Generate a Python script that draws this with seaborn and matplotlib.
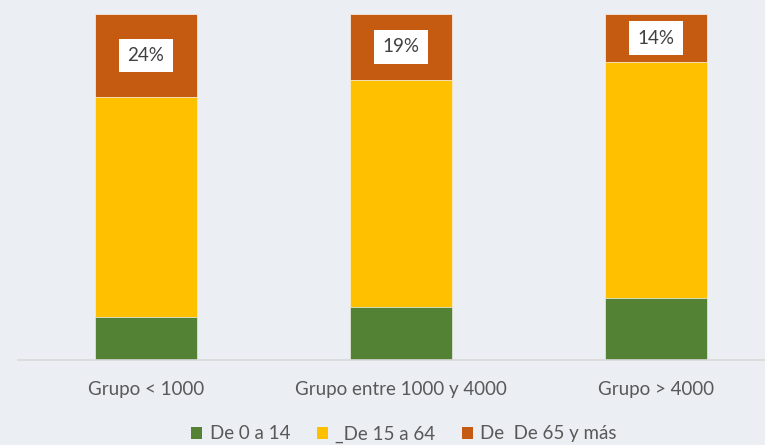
import numpy as np
import pandas as pd
import matplotlib
matplotlib.use("Agg")
import matplotlib.pyplot as plt
import seaborn as sns
from matplotlib.patches import Patch

# data (percent of each group)
groups = ["Grupo < 1000", "Grupo entre 1000 y 4000", "Grupo > 4000"]
young = [12.5, 15.3, 17.8]
old = [24, 19, 14]
old_labels = ["24%", "19%", "14%"]
series_names = ["De 0 a 14", "_De 15 a 64", "De  De 65 y más"]

colors = ["#548235", "#FFC000", "#C55A11"]
bg = "#EBEEF2"
text_col = "#595959"

middle = [100 - y - o for y, o in zip(young, old)]
df = pd.DataFrame({"group": groups, "young": young, "middle": middle, "old": old})
df["top"] = df["young"] + df["middle"] + df["old"]
df["mid_cum"] = df["young"] + df["middle"]

sns.set_style("white")
plt.rcParams["font.family"] = ["Lato", "DejaVu Sans"]

fig = plt.figure(figsize=(7.65, 4.45), dpi=100, facecolor=bg)
ax = fig.add_axes([18 / 765, 1 - 360 / 445, 747 / 765, 346 / 445])
ax.set_facecolor(bg)

# stacked bars drawn from the cumulative totals down
sns.barplot(data=df, x="group", y="top", color=colors[2], width=0.4,
            edgecolor="#F3E6DC", linewidth=0.6, ax=ax, saturation=1)
sns.barplot(data=df, x="group", y="mid_cum", color=colors[1], width=0.4,
            edgecolor="#F6EBD0", linewidth=0.6, ax=ax, saturation=1)
sns.barplot(data=df, x="group", y="young", color=colors[0], width=0.4,
            edgecolor="#DCE3D6", linewidth=0.6, ax=ax, saturation=1)

for i, row in df.iterrows():
    ypos = row["mid_cum"] + row["old"] / 2
    ax.text(i, ypos, old_labels[i], ha="center", va="center", fontsize=13.5,
            color="#404040",
            bbox=dict(boxstyle="square,pad=0.45", facecolor="white", edgecolor="none"))

ax.set_ylim(0, 100)
ax.set_xlim(-0.5, 2.426)
ax.set_xlabel("")
ax.set_ylabel("")
ax.set_yticks([])
for s in ["top", "right", "left"]:
    ax.spines[s].set_visible(False)
ax.spines["bottom"].set_color("#D9D9D9")
ax.spines["bottom"].set_linewidth(1.2)
ax.tick_params(axis="x", length=0, pad=15, labelsize=13.5, labelcolor=text_col)

handles = [Patch(facecolor=c, edgecolor="none") for c in colors]
fig.legend(handles, series_names, loc="center", bbox_to_anchor=(404 / 765, 1 - 434 / 445),
           ncol=3, frameon=False, fontsize=13.5, labelcolor=text_col,
           handlelength=0.6, handleheight=0.6, handletextpad=0.4, columnspacing=1.4)

fig.savefig("out.png", dpi=100, facecolor=bg)
